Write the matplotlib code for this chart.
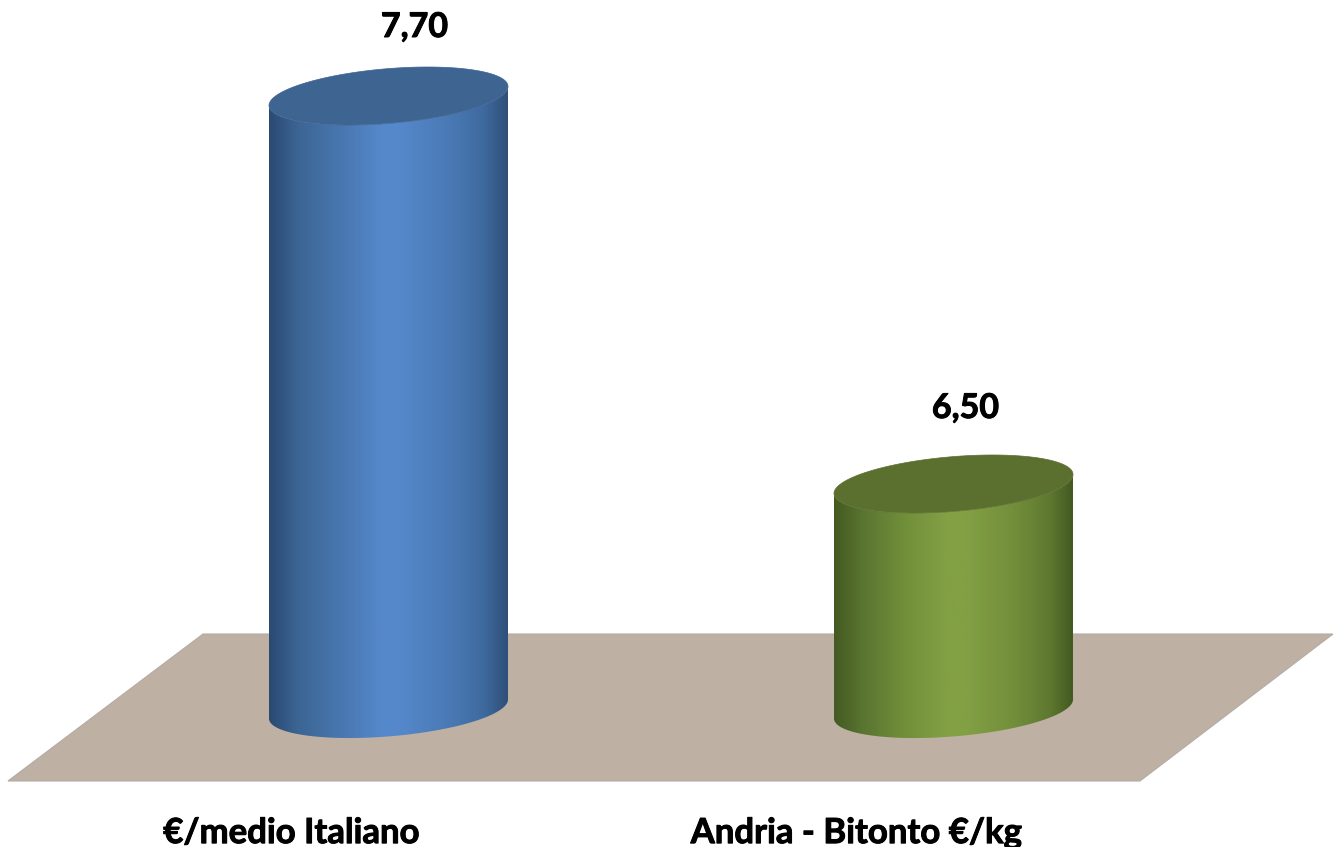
import numpy as np
import matplotlib
matplotlib.use("Agg")
import matplotlib.pyplot as plt
import matplotlib.patheffects as pe
from matplotlib.colors import LinearSegmentedColormap
from matplotlib.patches import Polygon, PathPatch
from matplotlib.path import Path

# --- data ---
categories = ["€/medio Italiano", "Andria - Bitonto €/kg"]
values = [7.70, 6.50]
value_labels = ["7,70", "6,50"]

# --- style ---
BASE_VALUE = 5.804
W, H = 1338, 847
FLOOR_PX = 781            # axes bottom (front edge of the floor), px from top
PX_PER_VALUE = 323.33
PX_PER_CAT = 565.0
CAT0_PX = 388.5
HALF_W = 119.5            # cylinder half width, px
ELL_B = 27.4              # ellipse half height, px
ELL_S = -9.5              # ellipse shear, px
LABEL_SHIFT = 97 / PX_PER_CAT
LABEL_OFFSETS = [(26, 69), (12, 76)]  # px from top centre of cylinder to label centre

body_colors = [
    ["#2a4a72", "#3c6594", "#4877b0", "#5588cb", "#5588cb", "#4a7ab6", "#3f6a9f", "#2f5079"],
    ["#445a22", "#5a7531", "#71903a", "#82a044", "#82a044", "#738f3b", "#5f7a30", "#445a22"],
]
body_stops = [0.0, 0.12, 0.30, 0.47, 0.55, 0.75, 0.90, 1.0]
top_colors = ["#3e6491", "#5b702f"]
FLOOR_COLOR = "#bfb0a4"
TEXT_EFFECT = [pe.withStroke(linewidth=0.7, foreground="black")]

plt.rcParams["font.family"] = ["Lato", "DejaVu Sans"]

fig = plt.figure(figsize=(W / 100, H / 100), dpi=100, facecolor="white")
ax = fig.add_axes([0, 1 - FLOOR_PX / H, 1, FLOOR_PX / H])

y_top = values[0] + 96 / PX_PER_VALUE
y_bot = y_top - FLOOR_PX / PX_PER_VALUE
x_lo = -CAT0_PX / PX_PER_CAT
x_hi = (W - CAT0_PX) / PX_PER_CAT


def dx(px):
    return np.asarray(px) / PX_PER_CAT


def dy(px):
    """pixel offset (positive = downward) to value offset"""
    return -np.asarray(px) / PX_PER_VALUE


def rim(xc, val, t):
    return xc + dx(HALF_W * np.cos(t)), val + dy(ELL_B * np.sin(t) + ELL_S * np.cos(t))


# floor
floor_px = [(203, 634), (1333, 634), (1140, 781), (8, 781)]
floor_xy = [((px - CAT0_PX) / PX_PER_CAT, y_top - py / PX_PER_VALUE) for px, py in floor_px]
ax.add_patch(Polygon(floor_xy, closed=True, facecolor=FLOOR_COLOR, edgecolor="#b3aca5",
                     linewidth=0.8, zorder=1, clip_on=False))

# cylinders
for i, val in enumerate(values):
    lower = np.linspace(np.pi, 0, 120)
    upper = np.linspace(0, np.pi, 120)
    bx, by = rim(i, BASE_VALUE, lower)
    tx, ty = rim(i, val, upper)
    verts = np.column_stack([np.r_[bx, tx], np.r_[by, ty]])
    body = Path(np.vstack([verts, verts[0]]), closed=True)
    cmap = LinearSegmentedColormap.from_list("c", list(zip(body_stops, body_colors[i])))
    im = ax.imshow(np.linspace(0, 1, 400)[None, :], cmap=cmap, aspect="auto",
                   extent=(i - dx(HALF_W), i + dx(HALF_W), y_bot, y_top), zorder=2,
                   interpolation="bilinear")
    im.set_clip_path(PathPatch(body, transform=ax.transData))

    t = np.linspace(0, 2 * np.pi, 240)
    ex, ey = rim(i, val, t)
    ax.fill(ex, ey, color=top_colors[i], linewidth=0.5, zorder=3)

    ox, oy = LABEL_OFFSETS[i]
    ax.annotate(value_labels[i], xy=(i, val), xytext=(ox * 0.72, oy * 0.72),
                textcoords="offset points", ha="center", va="center",
                fontsize=24.5, fontweight="bold", color="black", annotation_clip=False,
                path_effects=TEXT_EFFECT)

ax.set_xlim(x_lo, x_hi)
ax.set_ylim(y_bot, y_top)
ax.set_yticks([])
ax.set_xticks(np.arange(len(categories)) - LABEL_SHIFT)
ax.set_xticklabels(categories, fontsize=25, fontweight="bold", color="black",
                   path_effects=TEXT_EFFECT)
ax.tick_params(axis="x", length=0, pad=26)
for s in ax.spines.values():
    s.set_visible(False)
ax.patch.set_alpha(0)

fig.savefig("out.png", dpi=100, facecolor="white")
